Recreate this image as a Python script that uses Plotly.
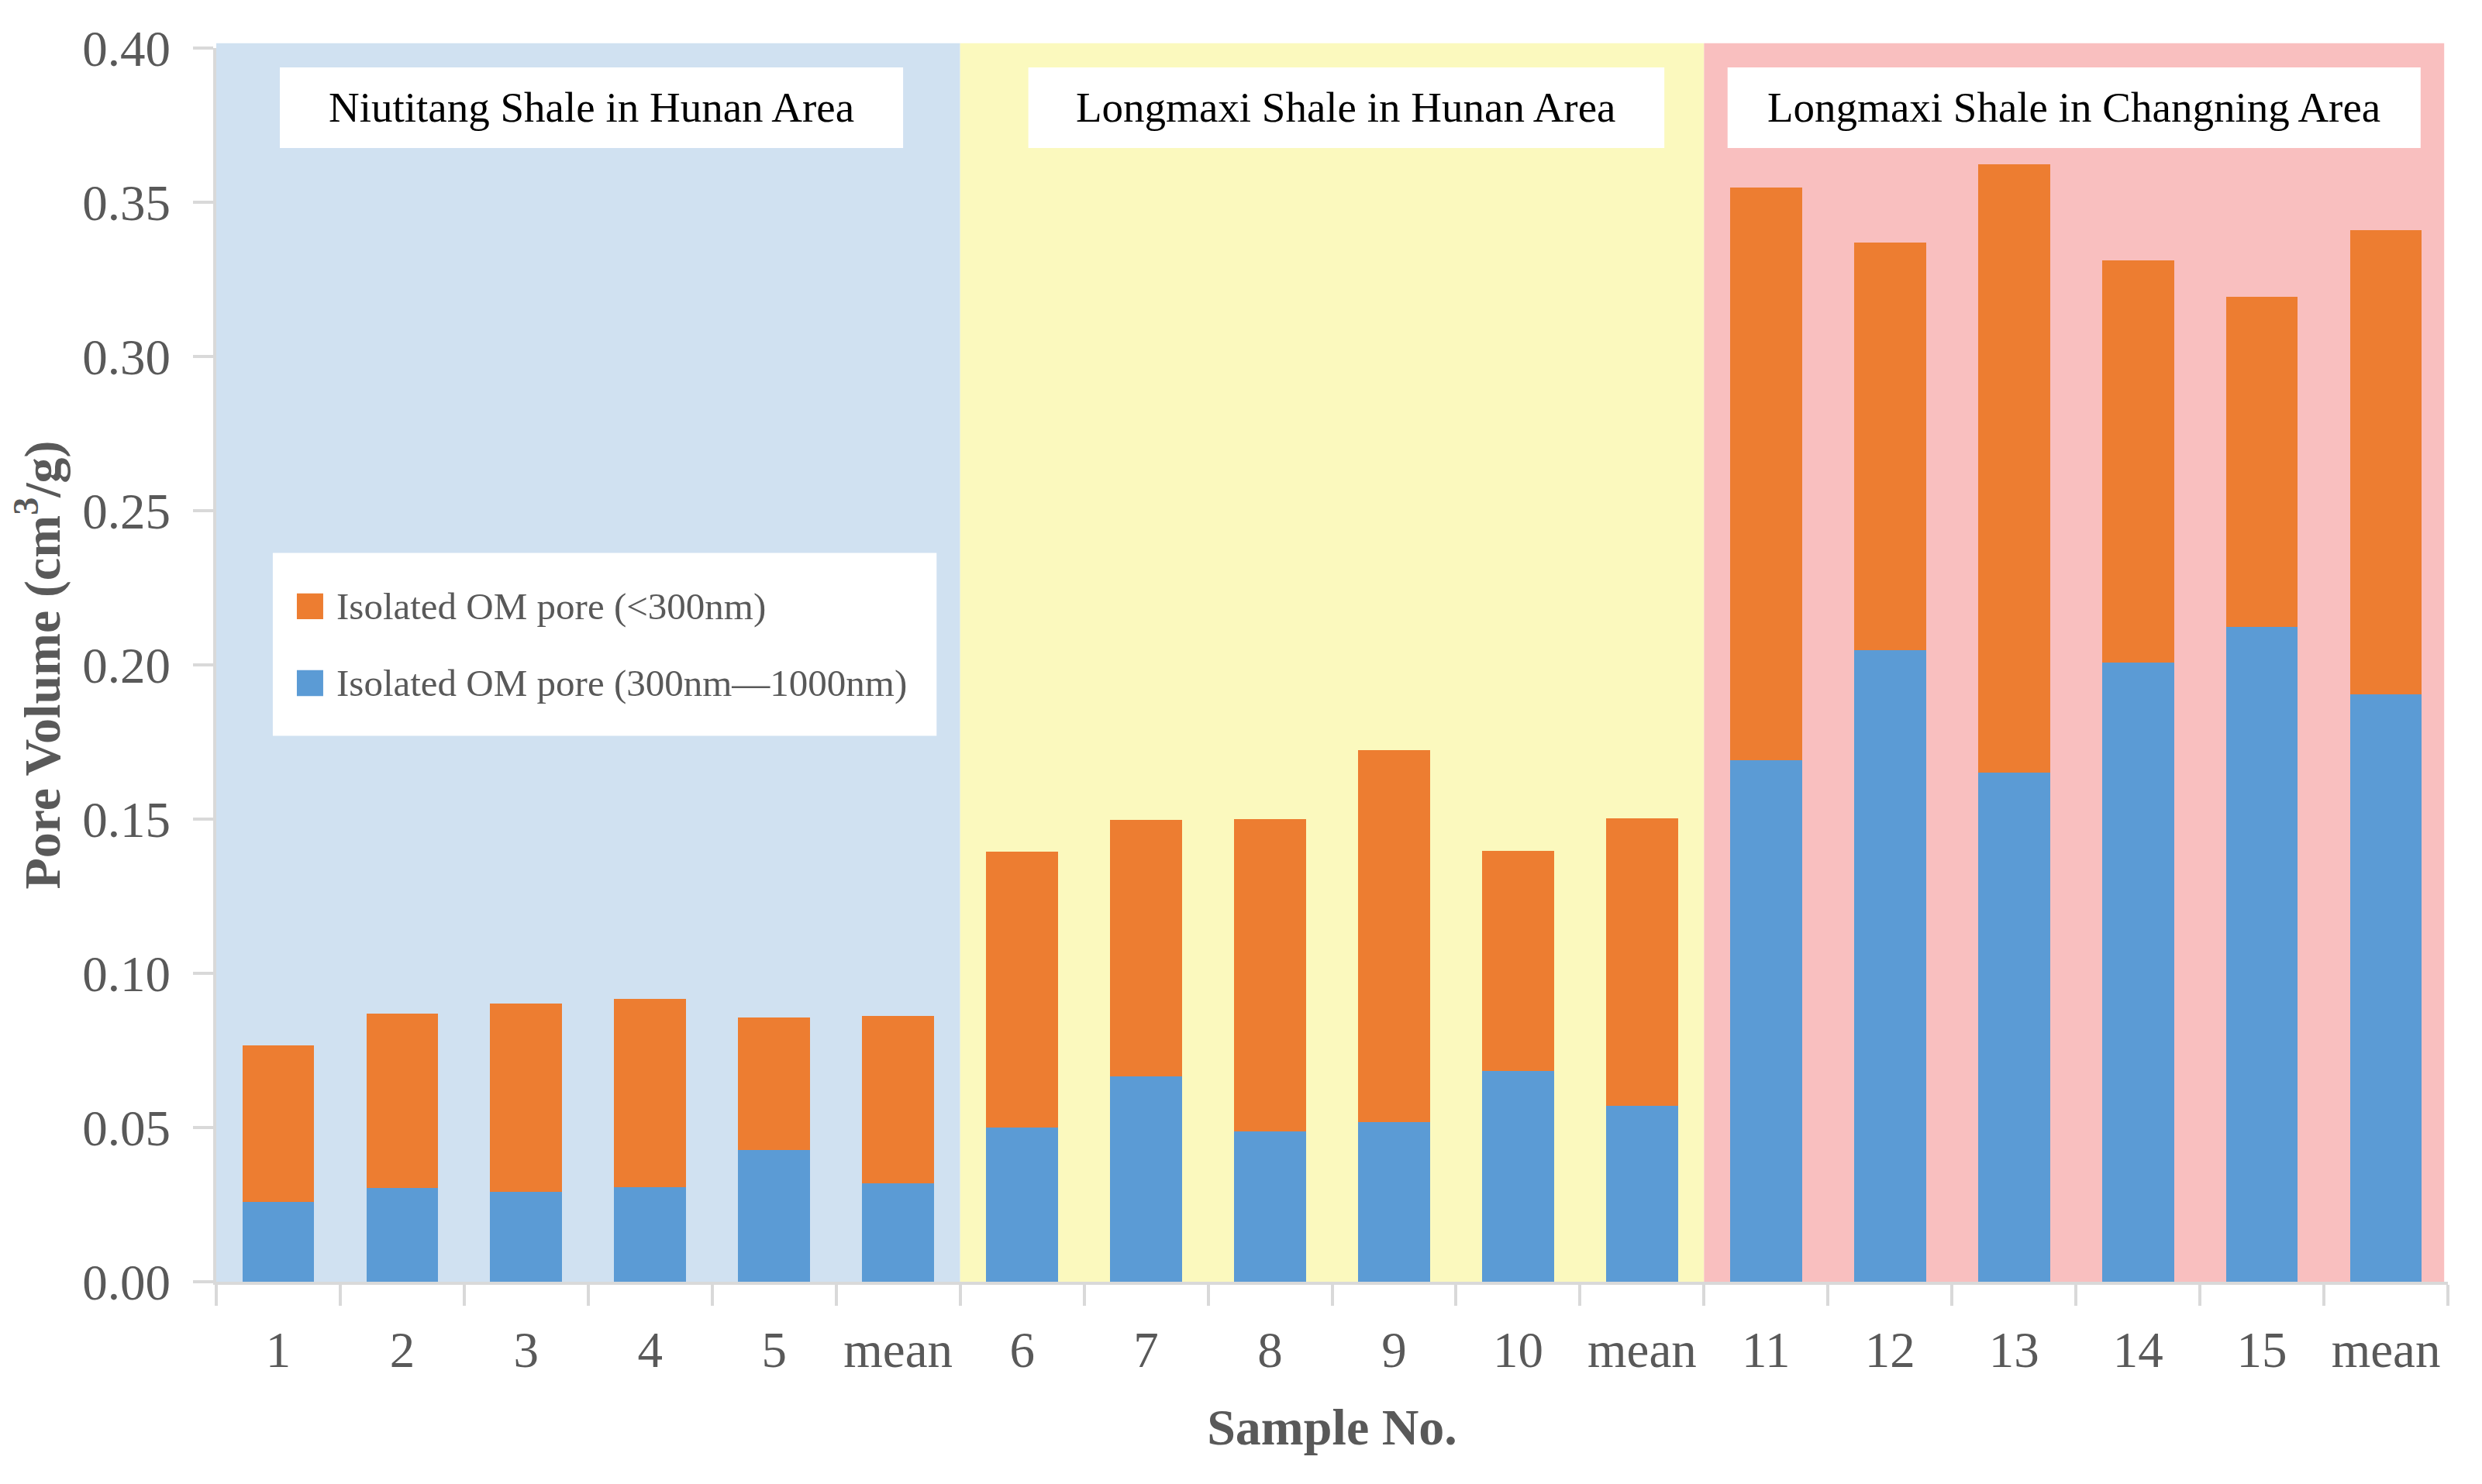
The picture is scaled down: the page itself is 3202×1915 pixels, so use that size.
import plotly.graph_objects as go

# ---- data ----
tick_labels = ["1", "2", "3", "4", "5", "mean",
               "6", "7", "8", "9", "10", "mean",
               "11", "12", "13", "14", "15", "mean"]
blue_vals = [0.0259, 0.0305, 0.0292, 0.0307, 0.0426, 0.0318,
             0.0500, 0.0666, 0.0487, 0.0518, 0.0683, 0.0571,
             0.1692, 0.2049, 0.1650, 0.2007, 0.2124, 0.1904]
total_vals = [0.0767, 0.0869, 0.0903, 0.0917, 0.0857, 0.0863,
              0.1394, 0.1497, 0.1499, 0.1723, 0.1396, 0.1502,
              0.3549, 0.3369, 0.3623, 0.3311, 0.3194, 0.3409]
orange_vals = [round(t - b, 4) for t, b in zip(total_vals, blue_vals)]
region_names = ["Niutitang Shale in Hunan Area",
                "Longmaxi Shale in Hunan Area",
                "Longmaxi Shale in Changning Area"]
series_names = ["Isolated OM pore (300nm\u20141000nm)", "Isolated OM pore (<300nm)"]

# ---- styles ----
BLUE = "#5B9BD5"
ORANGE = "#ED7D31"
REGION_COLORS = ["#D0E1F1", "#FBF9BE", "#F9BFBF"]
AXIS_GREY = "#D9D9D9"
TXT = "#595959"
FONT = "Liberation Serif"

x_pos = list(range(len(tick_labels)))

fig = go.Figure()
fig.add_trace(go.Bar(x=x_pos, y=blue_vals, name=series_names[0],
                     marker=dict(color=BLUE, line=dict(width=0)), showlegend=False))
fig.add_trace(go.Bar(x=x_pos, y=orange_vals, name=series_names[1],
                     marker=dict(color=ORANGE, line=dict(width=0)), showlegend=False))

shapes = []
annotations = []
# region backgrounds
region_bounds = [(-0.5, 5.5), (5.5, 11.5), (11.5, 17.47)]
for (x0, x1), c in zip(region_bounds, REGION_COLORS):
    shapes.append(dict(type="rect", xref="x", yref="paper", x0=x0, x1=x1, y0=0, y1=1.004,
                       fillcolor=c, line=dict(width=0), layer="below"))
# region title boxes
box_x = [(0.0125, 5.04), (6.05, 11.18), (11.69, 17.28)]
for (x0, x1), name in zip(box_x, region_names):
    shapes.append(dict(type="rect", xref="x", yref="y", x0=x0, x1=x1, y0=0.3676, y1=0.3937,
                       fillcolor="white", line=dict(width=0), layer="below"))
    annotations.append(dict(x=(x0 + x1) / 2, y=0.3807, xref="x", yref="y", text=name,
                            showarrow=False, xanchor="center", yanchor="middle",
                            font=dict(family=FONT, size=55, color="black")))
# custom legend
shapes.append(dict(type="rect", xref="x", yref="y", x0=-0.044, x1=5.31, y0=0.1770, y1=0.2363,
                   fillcolor="white", line=dict(width=0), layer="below"))
legend_rows = [(series_names[1], ORANGE, 0.2190), (series_names[0], BLUE, 0.1941)]
for name, col, yc in legend_rows:
    shapes.append(dict(type="rect", xref="x", yref="y", x0=0.15, x1=0.3625,
                       y0=yc - 0.0042, y1=yc + 0.0042,
                       fillcolor=col, line=dict(width=0), layer="below"))
    annotations.append(dict(x=0.456, y=yc, xref="x", yref="y", text=name.replace("<", "&lt;"),
                            showarrow=False, xanchor="left", yanchor="middle",
                            font=dict(family=FONT, size=49, color=TXT)))

fig.update_layout(
    width=3202, height=1915,
    margin=dict(l=271, r=52, t=54, b=269, autoexpand=False),
    barmode="stack", bargap=0.42,
    plot_bgcolor="white", paper_bgcolor="white",
    shapes=shapes, annotations=annotations,
    showlegend=False,
    font=dict(family=FONT, color=TXT),
)
fig.update_xaxes(
    range=[-0.5, 17.5], tickmode="array", tickvals=x_pos, ticktext=tick_labels,
    ticks="", showgrid=False, zeroline=False,
    showline=True, linecolor=AXIS_GREY, linewidth=4,
    tickfont=dict(family=FONT, size=65, color=TXT), ticklabelstandoff=28,
    minor=dict(tick0=-0.5, dtick=1, ticks="outside", ticklen=27, tickwidth=4,
               tickcolor=AXIS_GREY, showgrid=False),
    title=dict(text="Sample No.", standoff=42,
               font=dict(family=FONT, size=66, color=TXT, weight="bold")),
    automargin=False,
)
fig.update_yaxes(
    range=[0, 0.4], dtick=0.05, tickformat=".2f",
    ticks="outside", ticklen=26, tickwidth=4, tickcolor=AXIS_GREY,
    showgrid=False, zeroline=False,
    showline=True, linecolor=AXIS_GREY, linewidth=4,
    tickfont=dict(family=FONT, size=65, color=TXT), ticklabelstandoff=16,
    title=dict(text="Pore Volume (cm<sup>3</sup>/g)", standoff=30,
               font=dict(family=FONT, size=66, color=TXT, weight="bold")),
    automargin=False,
)

fig.write_html("out.html")
